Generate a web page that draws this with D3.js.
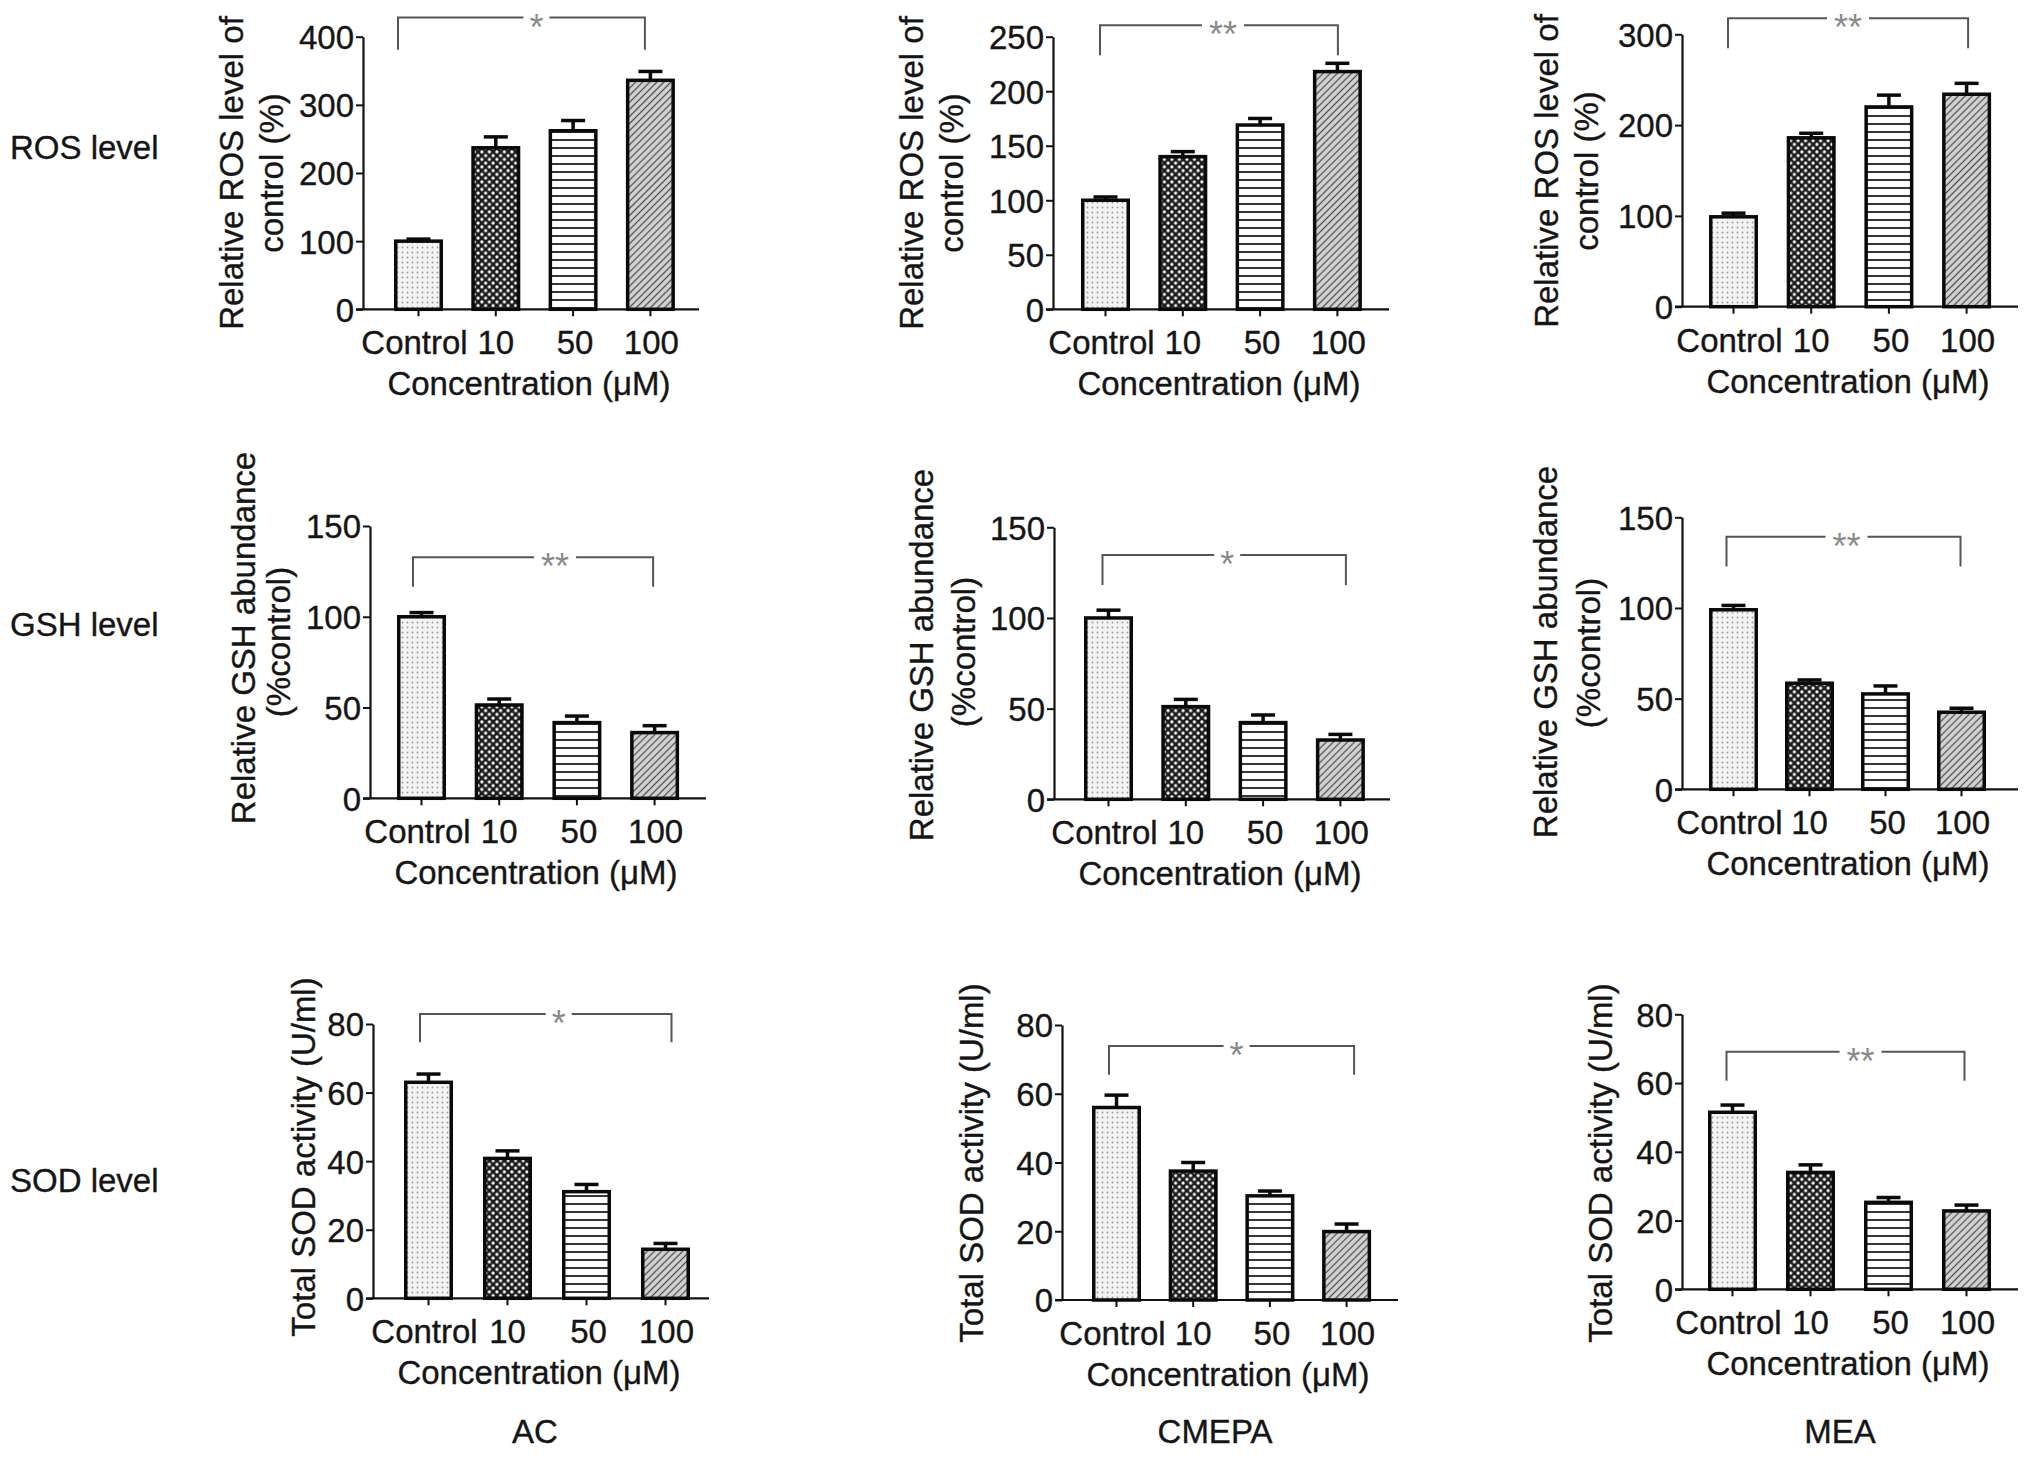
<!DOCTYPE html>
<html>
<head>
<meta charset="utf-8">
<script src="https://cdn.jsdelivr.net/npm/d3@7/dist/d3.min.js"></script>
<style>
  html, body { margin: 0; padding: 0; background: #fff; }
  svg { display: block; }
  text { font-family: "Liberation Sans", Arial, Helvetica, sans-serif; fill: #151515; }
</style>
</head>
<body>
<svg id="chart" width="2032" height="1457"></svg>
<script>
// ---------------- DATA ----------------
const categories = ["Control", "10", "50", "100"];
const rowLabels = ["ROS level", "GSH level", "SOD level"];
const columnLabels = ["AC", "CMEPA", "MEA"];
const xAxisTitle = "Concentration (\u03bcM)";

const rosTitle = ["Relative ROS level of", "control (%)"];
const gshTitle = ["Relative GSH abundance", "(%control)"];
const sodTitle = ["Total SOD activity (U/ml)"];

// ROS level (% of control)
const rosAC = [100, 237, 262, 336];
const rosACErr = [3, 16, 15, 13];
const rosCMEPA = [100, 140, 169, 218];
const rosCMEPAErr = [3, 4.6, 6, 7.6];
const rosMEA = [99, 186, 220, 234];
const rosMEAErr = [4, 5, 13, 12];

// GSH abundance (% control)
const gshAC = [100, 51.4, 41.7, 36.2];
const gshACErr = [2.3, 3.3, 3.6, 3.8];
const gshCMEPA = [100, 51.1, 42.3, 32.7];
const gshCMEPAErr = [4.3, 4, 4.2, 3.1];
const gshMEA = [99, 58.5, 52.6, 42.5];
const gshMEAErr = [2.4, 1.8, 4.4, 2.2];

// Total SOD activity (U/ml)
const sodAC = [63, 40.8, 31.1, 14.3];
const sodACErr = [2.4, 2.2, 2.1, 1.7];
const sodCMEPA = [56, 37.5, 30.3, 19.9];
const sodCMEPAErr = [3.6, 2.5, 1.4, 2.2];
const sodMEA = [51.5, 34, 25.3, 22.8];
const sodMEAErr = [2.1, 2.2, 1.4, 1.7];

// tick labels
const rosACTicks = [0, 100, 200, 300, 400];
const rosCMEPATicks = [0, 50, 100, 150, 200, 250];
const rosMEATicks = [0, 100, 200, 300];
const gshTicks = [0, 50, 100, 150];
const sodTicks = [0, 20, 40, 60, 80];

// significance marks and bracket levels (in data units: [top, leg end])
const significance = ["*", "**", "**", "**", "*", "**", "*", "*", "**"];
const bracketLevels = [[428, 381], [260.6, 233], [317.6, 284.6],
                       [132.8, 116.6], [134.7, 118.2], [139.3, 122.8],
                       [82.9, 74.7], [73.9, 65.5], [69.1, 60.7]];

const panels = [
  { v: rosAC, e: rosACErr, t: rosACTicks, title: rosTitle },
  { v: rosCMEPA, e: rosCMEPAErr, t: rosCMEPATicks, title: rosTitle },
  { v: rosMEA, e: rosMEAErr, t: rosMEATicks, title: rosTitle },
  { v: gshAC, e: gshACErr, t: gshTicks, title: gshTitle },
  { v: gshCMEPA, e: gshCMEPAErr, t: gshTicks, title: gshTitle },
  { v: gshMEA, e: gshMEAErr, t: gshTicks, title: gshTitle },
  { v: sodAC, e: sodACErr, t: sodTicks, title: sodTitle },
  { v: sodCMEPA, e: sodCMEPAErr, t: sodTicks, title: sodTitle },
  { v: sodMEA, e: sodMEAErr, t: sodTicks, title: sodTitle }
];

// ---------------- LAYOUT ----------------
const layout = [
  { ax: 363,  zy: 309.3,  h: 272.6, off: 31, step: 77.3, tOff: [-120, -80], tCy: [173, 173], bL: -20.5, bR: -5.5, sDx: 15 },
  { ax: 1053, zy: 309.3,  h: 272.6, off: 28, step: 77.3, tOff: [-130, -90], tCy: [173, 173], bL: -5.5, bR: 0.5, sDx: 4 },
  { ax: 1682, zy: 306.7,  h: 272.4, off: 27, step: 77.7, tOff: [-124, -84], tCy: [171, 171], bL: -5.5, bR: 1.5, sDx: 0 },
  { ax: 370,  zy: 798.3,  h: 272.3, off: 27, step: 77.7, tOff: [-115, -80], tCy: [638, 642], bL: -8.5, bR: -1.5, sDx: 22 },
  { ax: 1054, zy: 799.3,  h: 272,   off: 30, step: 77.3, tOff: [-121, -79], tCy: [655, 652], bL: -6, bR: 5.5, sDx: 3 },
  { ax: 1682, zy: 789.3,  h: 272,   off: 27, step: 76,   tOff: [-125, -82], tCy: [652, 653], bL: -7, bR: -1, sDx: 3 },
  { ax: 373,  zy: 1298.3, h: 274.3, off: 31, step: 79,   tOff: [-58],  tCy: [1157], bL: -8.5, bR: 6, sDx: 13 },
  { ax: 1062, zy: 1300,   h: 275,   off: 30, step: 76.7, tOff: [-79],  tCy: [1163], bL: -7.5, bR: 7.5, sDx: 5 },
  { ax: 1682, zy: 1289.3, h: 275,   off: 26, step: 78,   tOff: [-70],  tCy: [1163], bL: -6, bR: -2, sDx: 15 }
];
const rowLabelPos = [[10, 159], [10, 636], [10, 1192]];
const colLabelPos = [[535, 1443], [1215, 1443], [1840, 1443]];
// small left shift of x tick labels (Control label sits a little left of its bar)
const xLabelShift = [-4, 0, 2, 1];

const FS = 33, SX = 1.0, BARW = 49, AXLEN = 336;

// ---------------- DRAW ----------------
const svg = d3.select("#chart");
const defs = svg.append("defs");

// patterns
const pCtrl = defs.append("pattern").attr("id", "pat0").attr("patternUnits", "userSpaceOnUse")
  .attr("width", 5).attr("height", 5);
pCtrl.append("rect").attr("width", 5).attr("height", 5).attr("fill", "#f3f3f3");
pCtrl.append("circle").attr("cx", 2.5).attr("cy", 2.5).attr("r", 0.9).attr("fill", "#9a9a9a");

const p10 = defs.append("pattern").attr("id", "pat1").attr("patternUnits", "userSpaceOnUse")
  .attr("width", 7.5).attr("height", 7.5);
p10.append("rect").attr("width", 7.5).attr("height", 7.5).attr("fill", "#1c1c1c");
p10.append("circle").attr("cx", 1.875).attr("cy", 1.875).attr("r", 1.6).attr("fill", "#fff");
p10.append("circle").attr("cx", 5.625).attr("cy", 5.625).attr("r", 1.6).attr("fill", "#fff");

const p50 = defs.append("pattern").attr("id", "pat2").attr("patternUnits", "userSpaceOnUse")
  .attr("width", 8).attr("height", 8);
p50.append("rect").attr("width", 8).attr("height", 8).attr("fill", "#fff");
p50.append("line").attr("x1", 0).attr("x2", 8).attr("y1", 4).attr("y2", 4)
  .attr("stroke", "#111").attr("stroke-width", 1.7);

const p100 = defs.append("pattern").attr("id", "pat3").attr("patternUnits", "userSpaceOnUse")
  .attr("width", 5).attr("height", 5).attr("patternTransform", "rotate(45)");
p100.append("rect").attr("width", 5).attr("height", 5).attr("fill", "#d4d4d4");
p100.append("line").attr("x1", 2.5).attr("x2", 2.5).attr("y1", 0).attr("y2", 5)
  .attr("stroke", "#505050").attr("stroke-width", 1.3);

function styleText(sel) {
  return sel.attr("font-size", FS).attr("font-family", null).attr("fill", "#151515")
    .attr("stroke", "#151515").attr("stroke-width", 0.35);
}

function stretchedText(parent, str, x, y, anchor, rotate) {
  const g = parent.append("g")
    .attr("transform", `translate(${x},${y})` + (rotate ? ` rotate(${rotate})` : "") + ` scale(${SX},1)`);
  styleText(g.append("text").attr("text-anchor", anchor).text(str));
  return g;
}

panels.forEach((d, i) => {
  const L = layout[i];
  const g = svg.append("g");
  const ymax = d.t[d.t.length - 1];
  const y = d3.scaleLinear().domain([0, ymax]).range([L.zy, L.zy - L.h]);
  const x = d3.scaleBand().domain(categories)
    .range([L.ax + L.off, L.ax + L.off + 3 * L.step + BARW])
    .paddingInner(1 - BARW / L.step).paddingOuter(0);

  // x axis line
  g.append("line").attr("x1", L.ax - 7).attr("x2", L.ax + AXLEN)
    .attr("y1", L.zy).attr("y2", L.zy).attr("stroke", "#111").attr("stroke-width", 2.2);

  // x axis ticks and labels
  const xa = g.append("g").attr("transform", `translate(0,${L.zy})`)
    .call(d3.axisBottom(x).tickSize(7).tickSizeOuter(0));
  xa.select(".domain").remove();
  xa.selectAll(".tick line").attr("stroke", "#111").attr("stroke-width", 2);
  styleText(xa.selectAll(".tick text")
    .attr("y", null).attr("dy", null)
    .attr("transform", (c, j) => `translate(${xLabelShift[j]},45) scale(${SX},1)`));

  // y axis
  const ya = g.append("g").attr("transform", `translate(${L.ax},0)`)
    .call(d3.axisLeft(y).tickValues(d.t).tickSize(7).tickSizeOuter(0).tickFormat(d3.format("d")));
  ya.select(".domain").attr("stroke", "#111").attr("stroke-width", 2.2);
  ya.selectAll(".tick line").attr("stroke", "#111").attr("stroke-width", 2);
  styleText(ya.selectAll(".tick text")
    .attr("x", null)
    .attr("transform", `translate(-9,0) scale(${SX},1)`)
    .attr("dy", "0.36em"));

  // bars
  g.selectAll("rect.bar").data(categories).join("rect").attr("class", "bar")
    .attr("x", c => x(c) + 1.75)
    .attr("y", (c, j) => y(d.v[j]))
    .attr("width", x.bandwidth() - 3.5)
    .attr("height", (c, j) => L.zy - y(d.v[j]))
    .attr("fill", (c, j) => `url(#pat${j})`)
    .attr("stroke", "#0a0a0a").attr("stroke-width", 3.5);

  // error bars
  categories.forEach((c, j) => {
    const cx = x(c) + x.bandwidth() / 2;
    const yt = y(d.v[j] + d.e[j]);
    g.append("line").attr("x1", cx).attr("x2", cx).attr("y1", y(d.v[j])).attr("y2", yt)
      .attr("stroke", "#0a0a0a").attr("stroke-width", 3.5);
    g.append("line").attr("x1", cx - 12).attr("x2", cx + 12).attr("y1", yt).attr("y2", yt)
      .attr("stroke", "#0a0a0a").attr("stroke-width", 3.5);
  });

  // significance bracket
  const left = x(categories[0]) + x.bandwidth() / 2 + L.bL;
  const right = x(categories[3]) + x.bandwidth() / 2 + L.bR;
  const yTop = y(bracketLevels[i][0]);
  const yLeg = y(bracketLevels[i][1]);
  const sx = (left + right) / 2 + L.sDx;
  const nStar = significance[i].length;
  const half = nStar * 8 + 5;
  g.append("path")
    .attr("d", `M${left},${yLeg}V${yTop}H${sx - half}M${sx + half},${yTop}H${right}V${yLeg}`)
    .attr("fill", "none").attr("stroke", "#555").attr("stroke-width", 2);
  g.append("text").attr("x", sx).attr("y", yTop + 22).attr("text-anchor", "middle")
    .attr("font-size", 36).style("fill", "#8a8a8a").text(significance[i]);

  // y axis title
  d.title.forEach((line, k) => {
    stretchedText(g, line, L.ax + L.tOff[k], L.tCy[k], "middle", -90);
  });

  // x axis title
  stretchedText(g, xAxisTitle, L.ax + 166, L.zy + 86, "middle", 0);
});

rowLabels.forEach((s, r) => stretchedText(svg, s, rowLabelPos[r][0], rowLabelPos[r][1], "start", 0));
columnLabels.forEach((s, c) => stretchedText(svg, s, colLabelPos[c][0], colLabelPos[c][1], "middle", 0));
</script>
</body>
</html>
